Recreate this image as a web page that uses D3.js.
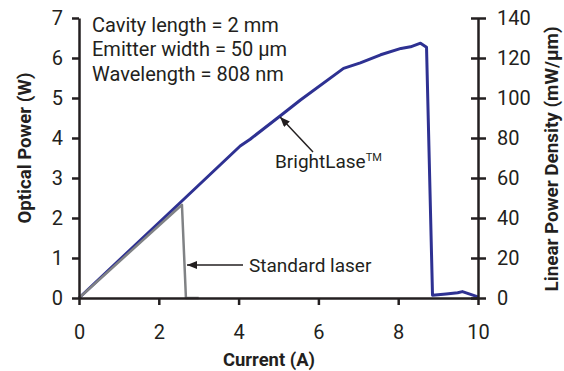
<!DOCTYPE html>
<html>
<head>
<meta charset="utf-8">
<script src="https://cdn.jsdelivr.net/npm/d3@7"></script>
<style>
  body { margin: 0; background: #fff; }
  svg text { font-family: Roboto, "Liberation Sans", sans-serif; fill: #231f20; }
</style>
</head>
<body>
<svg id="chart" width="564" height="371"></svg>
<script>
// current (A) / optical power (W)
const brightCurrent = [0, 2.5, 4.04, 4.29, 5.04, 5.55, 6.63, 7.05, 7.56, 8.07, 8.31, 8.56, 8.71, 8.86, 9.2, 9.49, 9.61, 10.0];
const brightPower   = [0, 2.35, 3.8, 3.97, 4.55, 4.95, 5.74, 5.88, 6.08, 6.24, 6.28, 6.37, 6.27, 0.07, 0.1, 0.13, 0.16, 0.03];
const stdCurrent = [0, 2.58, 2.68, 3.0];
const stdPower   = [0, 2.33, 0, 0];

const xTicks = [0, 2, 4, 6, 8, 10];
const yTicks = [0, 1, 2, 3, 4, 5, 6, 7];
const y2Ticks = [0, 20, 40, 60, 80, 100, 120, 140];
const notes = ['Cavity length = 2 mm', 'Emitter width = 50 \u03bcm', 'Wavelength = 808 nm'];

const svg = d3.select('#chart');
const ink = '#231f20';

const x = d3.scaleLinear().domain([0, 10]).range([79, 478]);
const y = d3.scaleLinear().domain([0, 7]).range([298, 18]);
const y2 = d3.scaleLinear().domain([0, 140]).range([298, 18]);

// arrow head
svg.append('defs').append('marker')
  .attr('id', 'head')
  .attr('viewBox', '0 0 10 8')
  .attr('refX', 10).attr('refY', 4)
  .attr('markerWidth', 10).attr('markerHeight', 8)
  .attr('markerUnits', 'userSpaceOnUse')
  .attr('orient', 'auto')
  .append('path').attr('d', 'M0,0 L10,4 L0,8 Z').attr('fill', ink);

const line = d3.line().x(d => x(d[0])).y(d => y(d[1]));

svg.append('path')
  .datum(brightCurrent.map((c, i) => [c, brightPower[i]]))
  .attr('d', line)
  .attr('fill', 'none')
  .attr('stroke', '#2e3192')
  .attr('stroke-width', 3)
  .attr('stroke-linejoin', 'round');

svg.append('path')
  .datum(stdCurrent.map((c, i) => [c, stdPower[i]]))
  .attr('d', line)
  .attr('fill', 'none')
  .attr('stroke', '#808285')
  .attr('stroke-width', 2.5)
  .attr('stroke-linejoin', 'round');

// axes
function style(g) {
  g.select('.domain').attr('stroke', ink).attr('stroke-width', 2.5);
  g.selectAll('.tick line').attr('stroke', ink).attr('stroke-width', 2.5);
  g.selectAll('.tick text').attr('font-size', 20).attr('fill', ink)
    .style('font-family', 'Roboto, "Liberation Sans", sans-serif');
}

const fmt = d3.format('d');

svg.append('g')
  .attr('transform', `translate(0,${y(0)})`)
  .call(d3.axisBottom(x).tickValues(xTicks).tickFormat(fmt).tickSize(7).tickSizeOuter(0).tickPadding(20))
  .call(style);

svg.append('g')
  .attr('transform', `translate(${x(0)},0)`)
  .call(d3.axisLeft(y).tickValues(yTicks).tickFormat(fmt).tickSize(7).tickSizeOuter(0).tickPadding(9))
  .call(style);

const right = svg.append('g')
  .attr('transform', `translate(${x(10)},0)`)
  .call(d3.axisRight(y2).tickValues(y2Ticks).tickFormat(fmt).tickSize(8).tickSizeOuter(0).tickPadding(11))
  .call(style);
right.selectAll('.tick line').attr('x1', -7);

// axis titles
svg.append('text')
  .attr('x', 269).attr('y', 366)
  .attr('text-anchor', 'middle')
  .attr('font-size', 19).attr('font-weight', 'bold')
  .attr('textLength', 92).attr('lengthAdjust', 'spacingAndGlyphs')
  .text('Current (A)');

svg.append('text')
  .attr('transform', 'translate(31,148) rotate(-90)')
  .attr('text-anchor', 'middle')
  .attr('font-size', 19).attr('font-weight', 'bold')
  .attr('textLength', 151).attr('lengthAdjust', 'spacingAndGlyphs')
  .text('Optical Power (W)');

svg.append('text')
  .attr('transform', 'translate(558,159) rotate(-90)')
  .attr('text-anchor', 'middle')
  .attr('font-size', 19).attr('font-weight', 'bold')
  .attr('textLength', 265).attr('lengthAdjust', 'spacingAndGlyphs')
  .text('Linear Power Density (mW/\u03bcm)');

// notes
svg.append('g').selectAll('text')
  .data(notes)
  .join('text')
  .attr('x', 92)
  .attr('y', (d, i) => 31.5 + i * 24.8)
  .attr('font-size', 20)
  .text(d => d);

// callouts
svg.append('line')
  .attr('x1', 313).attr('y1', 152)
  .attr('x2', x(5.04)).attr('y2', y(4.55) + 1)
  .attr('stroke', ink).attr('stroke-width', 1.5)
  .attr('marker-end', 'url(#head)');

const bl = svg.append('text')
  .attr('x', 275).attr('y', 168)
  .attr('font-size', 19);
bl.append('tspan').text('BrightLase');
bl.append('tspan').attr('font-size', 11).attr('dy', -7).text('TM');

svg.append('line')
  .attr('x1', 243).attr('y1', 265)
  .attr('x2', 187).attr('y2', 265)
  .attr('stroke', ink).attr('stroke-width', 1.5)
  .attr('marker-end', 'url(#head)');

svg.append('text')
  .attr('x', 249).attr('y', 271.5)
  .attr('font-size', 19)
  .text('Standard laser');
</script>
</body>
</html>
